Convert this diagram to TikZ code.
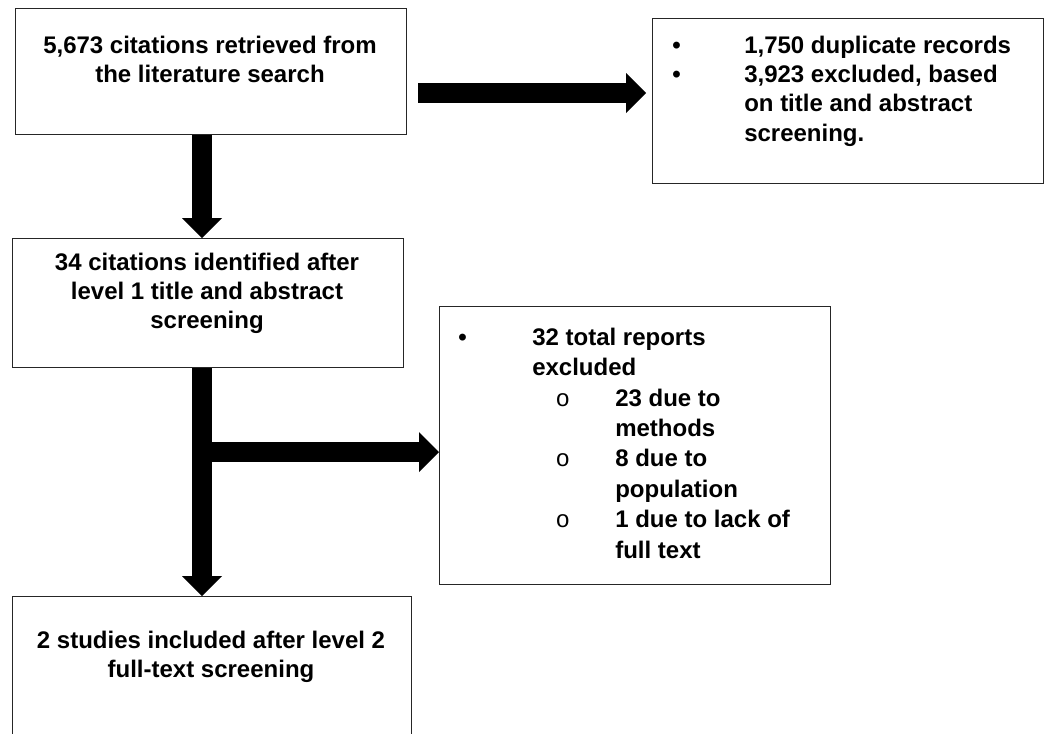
\documentclass[tikz,border=0pt]{standalone}
\usepackage{fontspec}
\setmainfont{Liberation Sans}
\setmonofont{Liberation Mono}
\usetikzlibrary{arrows.meta}

\newcommand{\subbul}{{\fontsize{18}{18}\selectfont\ttfamily\mdseries o}}

\begin{document}
\begin{tikzpicture}[x=0.75pt,y=-0.75pt,
    box/.style={draw=black!85,line width=1.1pt,inner sep=0pt,anchor=north west},
    txt/.style={inner sep=0pt,font=\fontsize{18}{22}\selectfont\bfseries},
    blk/.style={line width=15pt,-{Triangle[length=15pt,width=30pt,line width=0pt]}}]
  \useasboundingbox (0,0) rectangle (1045,733);
  \clip (0,0) rectangle (1045,733);
  % boxes
  \node[box,minimum width=293.25pt,minimum height=94.5pt] (search) at (15,8) {};
  \node[box,minimum width=293.25pt,minimum height=123.75pt] (dup) at (652,18) {};
  \node[box,minimum width=293.25pt,minimum height=96.75pt] (level1) at (12,238) {};
  \node[box,minimum width=293.25pt,minimum height=208.5pt] (excl) at (439,306) {};
  \node[box,minimum width=299.25pt,minimum height=120pt] (level2) at (12,596) {};
  % texts
  \node[txt,anchor=north] (search-t) at (210,32.5) {\begin{tabular}{@{}c@{}}
      5,673 citations retrieved from\\ the literature search\end{tabular}};
  \node[txt,anchor=north west] (dup-t) at (672,32.5) {\begin{tabular}{@{}p{54pt}@{}l@{}}
      • & 1,750 duplicate records\\
      • & 3,923 excluded, based\\
        & on title and abstract\\
        & screening.\end{tabular}};
  \node[txt,anchor=north] (level1-t) at (207,249.5) {\begin{tabular}{@{}c@{}}
      34 citations identified after\\ level 1 title and abstract\\ screening\end{tabular}};
  \node[txt,anchor=north west,font=\fontsize{18}{22.8}\selectfont\bfseries] (excl-t) at (458,323.7)
    {\begin{tabular}{@{}p{55.5pt}@{}p{62.25pt}@{}l@{}}
      • & \multicolumn{2}{@{}l@{}}{32 total reports}\\
        & \multicolumn{2}{@{}l@{}}{excluded}\\
        & \hspace{17.5pt}\subbul & 23 due to\\
        & & methods\\
        & \hspace{17.5pt}\subbul & 8 due to\\
        & & population\\
        & \hspace{17.5pt}\subbul & 1 due to lack of\\
        & & full text\end{tabular}};
  \node[txt,anchor=north] (level2-t) at (211,627.5) {\begin{tabular}{@{}c@{}}
      2 studies included after level 2\\ full-text screening\end{tabular}};
  % arrows
  \coordinate (spine) at (202,0);
  \coordinate (row) at (0,93);
  \coordinate (fork) at (202,452);
  \draw[blk] (search.south -| spine) -- (level1.north -| spine);
  \draw[blk] (level1.south -| spine) -- (level2.north -| spine);
  \draw[blk] (fork) -- (fork -| excl.west);
  \draw[blk,shorten <=8.25pt,shorten >=4.5pt] (search.east |- row) -- (dup.west |- row);
\end{tikzpicture}
\end{document}
